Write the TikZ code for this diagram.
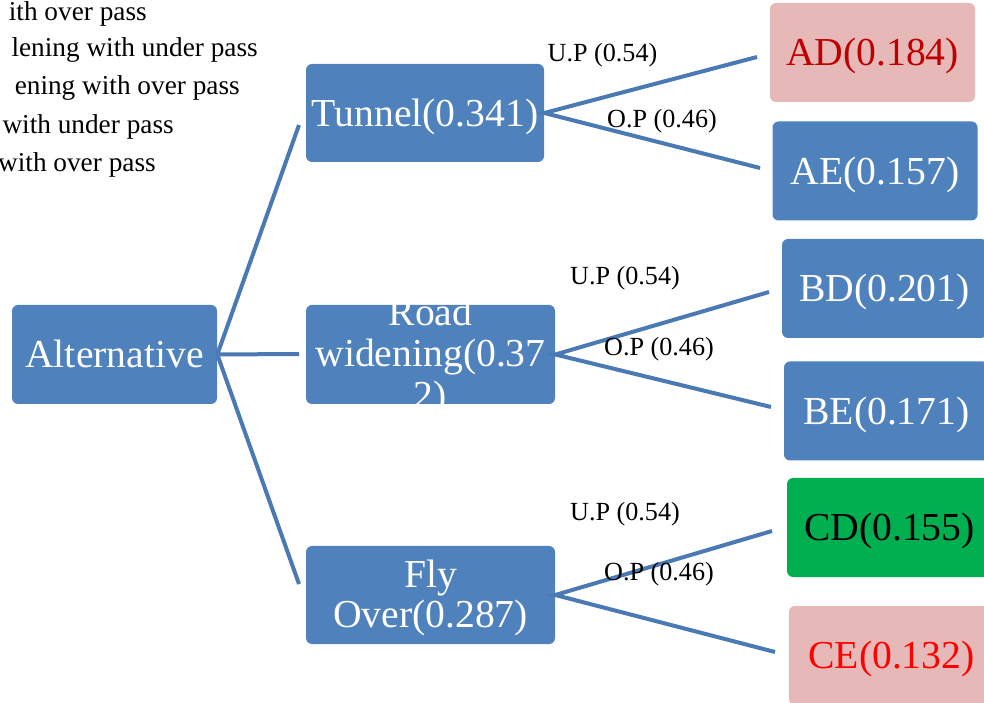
\documentclass[tikz,border=0pt]{standalone}
\usepackage{fontspec}
\setmainfont{Liberation Serif}
\usepackage{tikz}
\usetikzlibrary{calc}
\definecolor{boxblue}{HTML}{4F81BD}
\definecolor{lineblue}{HTML}{4A79B3}
\definecolor{boxpink}{HTML}{E6B9B8}
\definecolor{boxgreen}{HTML}{00B050}
\definecolor{darkred}{HTML}{C00000}

\begin{document}
\begin{tikzpicture}[
  box/.style={rectangle, rounded corners=0.15cm, fill=boxblue, text=white, inner sep=0pt,
    minimum width=5.125cm, minimum height=2.475cm, text height=18.6pt, text depth=0pt,
    font=\fontsize{28.2}{30}\selectfont},
  boxtext/.style={text=white, align=center, inner sep=0pt, font=\fontsize{28.2}{29.5}\selectfont},
  branch/.style={draw=lineblue, line width=0.1cm},
  prob/.style={font=\fontsize{18.6}{22}\selectfont},
  legend/.style={anchor=east, inner sep=0pt, font=\fontsize{19.4}{22}\selectfont}]
\useasboundingbox (0,0) rectangle (24.6,17.55);
\clip (0,0) rectangle (24.6,17.55);

% key text, cut at the left edge
\node[legend] (key1) at (3.675,17.2) {ith over pass};
\node[legend] (key2) at (6.45,16.3) {lening with under pass};
\node[legend] (key3) at (6.0,15.35) {ening with over pass};
\node[legend] (key4) at (4.35,14.375) {with under pass};
\node[legend] (key5) at (3.9,13.425) {with over pass};

% root and alternatives
\node[box] (alt) at (2.8625,8.6875) {Alternative};
\node[box, minimum width=5.95cm, minimum height=2.45cm] (tunnel) at (10.625,14.725) {Tunnel(0.341)};
\node[box, minimum width=6.225cm] (road) at (10.7625,8.6875) {};
\node[boxtext] (roadtxt) at (10.7625,8.62) {Road\\widening(0.37\\2)};
\node[box, minimum width=6.225cm, minimum height=2.45cm] (fly) at (10.7625,2.675) {};
\node[boxtext] (flytxt) at (10.7625,2.6) {Fly\\[-1pt]Over(0.287)};

% results
\node[box, fill=boxpink, text=darkred] (AD) at (21.8125,16.2375) {AD(0.184)};
\node[box] (AE) at (21.875,13.275) {AE(0.157)};
\node[box] (BD) at (22.1125,10.3375) {BD(0.201)};
\node[box] (BE) at (22.1625,7.275) {BE(0.171)};
\node[box, fill=boxgreen, text=black] (CD) at (22.2375,4.3625) {CD(0.155)};
\node[box, fill=boxpink, text=red] (CE) at (22.2875,1.1625) {CE(0.132)};

% free ends of the branches
\coordinate (a1) at (7.475,14.425);
\coordinate (a2) at (7.475,8.7);
\coordinate (a3) at (7.475,2.95);
\coordinate (t1) at (18.925,16.125);
\coordinate (t2) at (19.0,13.35);
\coordinate (r1) at (19.225,10.25);
\coordinate (r2) at (19.275,7.375);
\coordinate (f1) at (19.3,4.275);
\coordinate (f2) at (19.375,1.25);

\draw[branch] (a1) -- (alt.east) -- (a3);
\draw[branch] (alt.east) -- (a2);
\draw[branch] (t1) -- (tunnel.east) -- (t2);
\draw[branch] (r1) -- (road.east) -- (r2);
\draw[branch] (f1) -- (fly.east) -- (f2);

% branch probabilities
\node[prob] (tup) at (15.0625,16.18) {U.P (0.54)};
\node[prob] (top) at (16.55,14.52) {O.P (0.46)};
\node[prob] (rup) at (15.625,10.59) {U.P (0.54)};
\node[prob] (rop) at (16.475,8.82) {O.P (0.46)};
\node[prob] (fup) at (15.625,4.69) {U.P (0.54)};
\node[prob] (fop) at (16.475,3.19) {O.P (0.46)};
\end{tikzpicture}
\end{document}
